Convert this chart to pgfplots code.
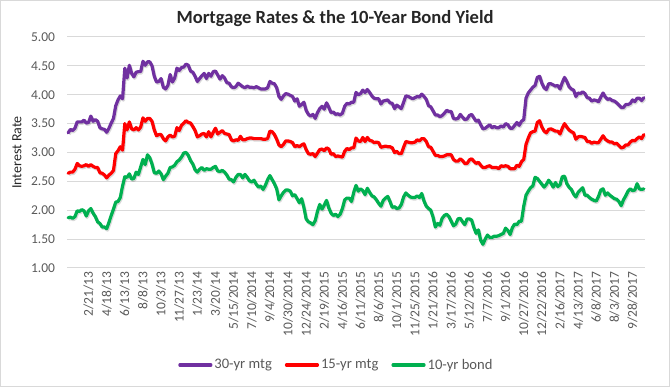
\documentclass[border=0pt]{standalone}
\usepackage{pgfplots}
\usepackage{pgfplotstable}
\pgfplotsset{compat=1.18}
\usepackage{fontspec}
\setmainfont{Carlito}
\definecolor{mtgpurple}{HTML}{7030A0}
\definecolor{mtgred}{HTML}{FF0000}
\definecolor{bondgreen}{HTML}{00B050}
\definecolor{gridgray}{HTML}{D9D9D9}
\definecolor{tickgray}{HTML}{595959}

% 30-yr mortgage, weekly, Jan 3 2013 - Nov 16 2017
\pgfplotstableread[row sep=\\]{
y\\
3.34\\3.40\\3.38\\3.42\\3.53\\3.53\\3.53\\3.56\\3.51\\3.52\\3.63\\3.54\\3.57\\3.54\\3.43\\3.41\\3.40\\3.35\\3.42\\3.51\\3.59\\3.81\\3.91\\3.98\\3.93\\4.46\\4.29\\4.51\\4.37\\4.31\\4.39\\4.40\\4.40\\4.58\\4.51\\4.57\\4.57\\4.50\\4.32\\4.22\\4.23\\4.28\\4.13\\4.10\\4.16\\4.35\\4.22\\4.29\\4.46\\4.42\\4.47\\4.48\\
4.53\\4.51\\4.41\\4.39\\4.32\\4.23\\4.28\\4.33\\4.37\\4.28\\4.37\\4.32\\4.40\\4.41\\4.34\\4.27\\4.33\\4.29\\4.21\\4.20\\4.14\\4.12\\4.14\\4.20\\4.17\\4.14\\4.12\\4.15\\4.13\\4.13\\4.12\\4.14\\4.12\\4.10\\4.10\\4.10\\4.12\\4.23\\4.20\\4.19\\4.12\\3.97\\3.92\\3.98\\4.02\\4.01\\3.99\\3.97\\3.89\\3.93\\3.80\\3.83\\3.87\\
3.73\\3.66\\3.63\\3.66\\3.59\\3.69\\3.76\\3.80\\3.75\\3.86\\3.78\\3.69\\3.70\\3.66\\3.67\\3.65\\3.68\\3.80\\3.85\\3.84\\3.87\\3.87\\4.04\\4.00\\4.02\\4.08\\4.04\\4.09\\4.04\\3.98\\3.94\\3.93\\3.93\\3.84\\3.89\\3.90\\3.91\\3.86\\3.85\\3.76\\3.82\\3.79\\3.76\\3.87\\3.98\\3.97\\3.95\\3.93\\3.95\\3.97\\3.96\\4.01\\
3.97\\3.92\\3.81\\3.79\\3.72\\3.65\\3.65\\3.62\\3.64\\3.68\\3.73\\3.71\\3.71\\3.59\\3.58\\3.59\\3.66\\3.61\\3.57\\3.58\\3.64\\3.66\\3.60\\3.54\\3.56\\3.48\\3.41\\3.42\\3.45\\3.48\\3.43\\3.45\\3.43\\3.43\\3.46\\3.44\\3.50\\3.48\\3.42\\3.42\\3.47\\3.52\\3.47\\3.54\\3.57\\3.94\\4.03\\4.08\\4.13\\4.16\\4.30\\4.32\\
4.20\\4.12\\4.09\\4.19\\4.19\\4.17\\4.15\\4.16\\4.10\\4.21\\4.30\\4.23\\4.14\\4.10\\4.08\\3.97\\4.03\\4.02\\4.05\\4.02\\3.95\\3.94\\3.89\\3.91\\3.90\\3.88\\3.96\\4.03\\3.96\\3.92\\3.93\\3.90\\3.89\\3.86\\3.82\\3.78\\3.78\\3.83\\3.83\\3.85\\3.91\\3.88\\3.94\\3.94\\3.90\\3.95\\
}\mthirty

% 15-yr mortgage
\pgfplotstableread[row sep=\\]{
y\\
2.64\\2.66\\2.66\\2.71\\2.81\\2.77\\2.76\\2.77\\2.79\\2.76\\2.79\\2.76\\2.74\\2.74\\2.65\\2.64\\2.61\\2.56\\2.61\\2.64\\2.69\\2.98\\3.03\\3.10\\3.04\\3.50\\3.39\\3.53\\3.41\\3.39\\3.43\\3.39\\3.44\\3.60\\3.54\\3.59\\3.59\\3.54\\3.39\\3.29\\3.31\\3.31\\3.24\\3.20\\3.27\\3.30\\3.27\\3.28\\3.43\\3.38\\3.47\\3.51\\
3.55\\3.52\\3.51\\3.45\\3.38\\3.27\\3.29\\3.32\\3.33\\3.27\\3.36\\3.27\\3.35\\3.42\\3.32\\3.35\\3.38\\3.33\\3.32\\3.31\\3.22\\3.20\\3.22\\3.21\\3.28\\3.22\\3.22\\3.24\\3.25\\3.25\\3.24\\3.24\\3.24\\3.24\\3.23\\3.23\\3.24\\3.37\\3.36\\3.31\\3.23\\3.13\\3.10\\3.14\\3.20\\3.20\\3.19\\3.17\\3.10\\3.12\\3.10\\3.13\\3.15\\
3.05\\2.98\\2.97\\2.98\\2.93\\2.99\\3.05\\3.06\\3.03\\3.08\\3.06\\2.97\\2.98\\2.93\\2.94\\2.93\\2.92\\3.02\\3.07\\3.05\\3.08\\3.08\\3.25\\3.20\\3.19\\3.26\\3.19\\3.26\\3.21\\3.20\\3.17\\3.18\\3.17\\3.09\\3.10\\3.11\\3.10\\3.10\\3.08\\3.00\\3.02\\2.98\\2.98\\3.09\\3.19\\3.18\\3.17\\3.17\\3.18\\3.22\\3.20\\3.24\\
3.24\\3.19\\3.10\\3.09\\3.02\\2.95\\2.95\\2.93\\2.93\\2.94\\2.96\\2.96\\2.96\\2.88\\2.85\\2.85\\2.89\\2.86\\2.81\\2.81\\2.87\\2.89\\2.85\\2.81\\2.83\\2.78\\2.74\\2.74\\2.76\\2.77\\2.74\\2.74\\2.74\\2.72\\2.77\\2.76\\2.77\\2.76\\2.72\\2.72\\2.72\\2.78\\2.76\\2.84\\2.88\\3.14\\3.25\\3.34\\3.36\\3.37\\3.52\\3.55\\
3.44\\3.37\\3.34\\3.40\\3.41\\3.39\\3.37\\3.37\\3.32\\3.42\\3.50\\3.44\\3.39\\3.36\\3.34\\3.23\\3.27\\3.28\\3.27\\3.26\\3.19\\3.19\\3.16\\3.18\\3.17\\3.17\\3.23\\3.29\\3.23\\3.20\\3.18\\3.18\\3.15\\3.16\\3.12\\3.08\\3.09\\3.13\\3.13\\3.18\\3.21\\3.20\\3.24\\3.27\\3.24\\3.31\\
}\mfifteen

% 10-yr bond
\pgfplotstableread[row sep=\\]{
y\\
1.87\\1.88\\1.86\\1.89\\1.99\\1.98\\2.01\\1.99\\1.90\\1.99\\2.03\\1.95\\1.89\\1.80\\1.77\\1.71\\1.71\\1.68\\1.79\\1.91\\2.02\\2.14\\2.15\\2.22\\2.42\\2.58\\2.57\\2.63\\2.54\\2.55\\2.66\\2.62\\2.75\\2.88\\2.79\\2.96\\2.91\\2.80\\2.65\\2.64\\2.68\\2.63\\2.53\\2.59\\2.64\\2.74\\2.75\\2.78\\2.84\\2.87\\2.92\\2.99\\
3.00\\2.95\\2.86\\2.80\\2.70\\2.66\\2.71\\2.74\\2.69\\2.72\\2.71\\2.71\\2.74\\2.76\\2.68\\2.67\\2.69\\2.66\\2.61\\2.54\\2.53\\2.49\\2.57\\2.62\\2.62\\2.56\\2.62\\2.57\\2.51\\2.49\\2.52\\2.45\\2.40\\2.42\\2.36\\2.43\\2.53\\2.60\\2.53\\2.46\\2.37\\2.18\\2.25\\2.31\\2.35\\2.35\\2.33\\2.25\\2.27\\2.20\\2.13\\2.20\\2.05\\
1.85\\1.80\\1.78\\1.75\\1.82\\1.98\\2.10\\2.02\\2.09\\2.17\\2.04\\1.95\\1.91\\1.93\\1.89\\1.93\\2.03\\2.18\\2.21\\2.21\\2.15\\2.31\\2.43\\2.33\\2.37\\2.34\\2.27\\2.38\\2.31\\2.25\\2.23\\2.18\\2.12\\2.07\\2.17\\2.21\\2.24\\2.15\\2.05\\2.06\\2.03\\2.04\\2.10\\2.23\\2.30\\2.26\\2.23\\2.22\\2.22\\2.25\\2.22\\2.29\\
2.16\\2.07\\2.03\\2.00\\1.88\\1.71\\1.77\\1.74\\1.86\\1.91\\1.93\\1.89\\1.81\\1.73\\1.76\\1.85\\1.86\\1.80\\1.75\\1.85\\1.85\\1.83\\1.70\\1.60\\1.66\\1.48\\1.41\\1.50\\1.57\\1.53\\1.53\\1.55\\1.55\\1.56\\1.58\\1.60\\1.69\\1.65\\1.58\\1.70\\1.76\\1.75\\1.81\\1.81\\2.07\\2.26\\2.33\\2.39\\2.42\\2.57\\2.55\\2.50\\
2.45\\2.40\\2.45\\2.52\\2.47\\2.40\\2.48\\2.41\\2.44\\2.58\\2.59\\2.46\\2.40\\2.36\\2.28\\2.23\\2.31\\2.35\\2.39\\2.26\\2.26\\2.22\\2.19\\2.17\\2.16\\2.24\\2.35\\2.37\\2.26\\2.30\\2.26\\2.23\\2.20\\2.19\\2.15\\2.08\\2.18\\2.25\\2.33\\2.37\\2.34\\2.35\\2.46\\2.37\\2.36\\2.37\\
}\bten

\begin{document}
\begin{tikzpicture}
\begin{axis}[
  scale only axis,
  width=578bp, height=231bp,
  xmin=-0.5, xmax=254.5,
  ymin=1, ymax=5,
  clip=false,
  axis line style={draw=none},
  tick style={draw=none},
  ytick={1,1.5,2,2.5,3,3.5,4,4.5,5},
  ymajorgrids,
  major grid style={draw=gridgray, line width=1bp},
  /pgf/number format/assume math mode=true,
  yticklabel={\pgfmathprintnumber[fixed,fixed zerofill,precision=2]{\tick}},
  yticklabel style={font=\fontsize{13.5bp}{15bp}\selectfont, text=tickgray, xshift=-8.5bp},
  xtick={7,15,...,247},
  xticklabels={2/21/13,4/18/13,6/13/13,8/8/13,10/3/13,11/27/13,1/23/14,3/20/14,5/15/2014,7/10/2014,9/4/2014,10/30/2014,12/24/2014,2/19/2015,4/16/2015,6/11/2015,8/6/2015,10/1/2015,11/25/2015,1/21/2016,3/17/2016,5/12/2016,7/7/2016,9/1/2016,10/27/2016,12/22/2016,2/16/2017,4/13/2017,6/8/2017,8/3/2017,9/28/2017},
  xticklabel style={rotate=90, anchor=east, font=\fontsize{13.5bp}{15bp}\selectfont, text=tickgray, yshift=-4.5bp},
  legend columns=3,
  legend style={at={(axis description cs:0.466,-0.42)}, anchor=center, draw=none, fill=none,
    font=\fontsize{14.6bp}{16bp}\selectfont, text=tickgray,
    /tikz/every even column/.append style={column sep=11bp},
    /tikz/every odd column/.append style={column sep=0bp}},
  legend image code/.code={\draw[#1] (0bp,0bp) -- (31bp,0bp);},
]
% soft shadows
\addplot[forget plot, draw=black, opacity=0.15, line width=3.4bp, xshift=0.8bp, yshift=-1.3bp, line join=round] table[x expr=\coordindex, y=y] {\mthirty};
\addplot[forget plot, draw=black, opacity=0.15, line width=3.4bp, xshift=0.8bp, yshift=-1.3bp, line join=round] table[x expr=\coordindex, y=y] {\mfifteen};
\addplot[forget plot, draw=black, opacity=0.15, line width=3.4bp, xshift=0.8bp, yshift=-1.3bp, line join=round] table[x expr=\coordindex, y=y] {\bten};
% series
\addplot[draw=mtgpurple, line width=3.2bp, line join=round, line cap=round] table[x expr=\coordindex, y=y] {\mthirty};
\addlegendentry{30-yr mtg}
\addplot[draw=mtgred, line width=3.2bp, line join=round, line cap=round] table[x expr=\coordindex, y=y] {\mfifteen};
\addlegendentry{15-yr mtg}
\addplot[draw=bondgreen, line width=3.2bp, line join=round, line cap=round] table[x expr=\coordindex, y=y] {\bten};
\addlegendentry{10-yr bond}
% chart frame, title and axis label
\draw[gridgray, line width=1bp] (rel axis cs:-0.1151,-0.5143) rectangle (rel axis cs:1.0424,1.1580);
\node[font=\bfseries\fontsize{18.6bp}{21bp}\selectfont, text=black!85] at (rel axis cs:0.4637,1.082) {Mortgage Rates \& the 10-Year Bond Yield};
\node[rotate=90, font=\fontsize{14bp}{16bp}\selectfont, text=black!85] at (rel axis cs:-0.0865,0.5) {Interest Rate};
\end{axis}
\end{tikzpicture}
\end{document}
